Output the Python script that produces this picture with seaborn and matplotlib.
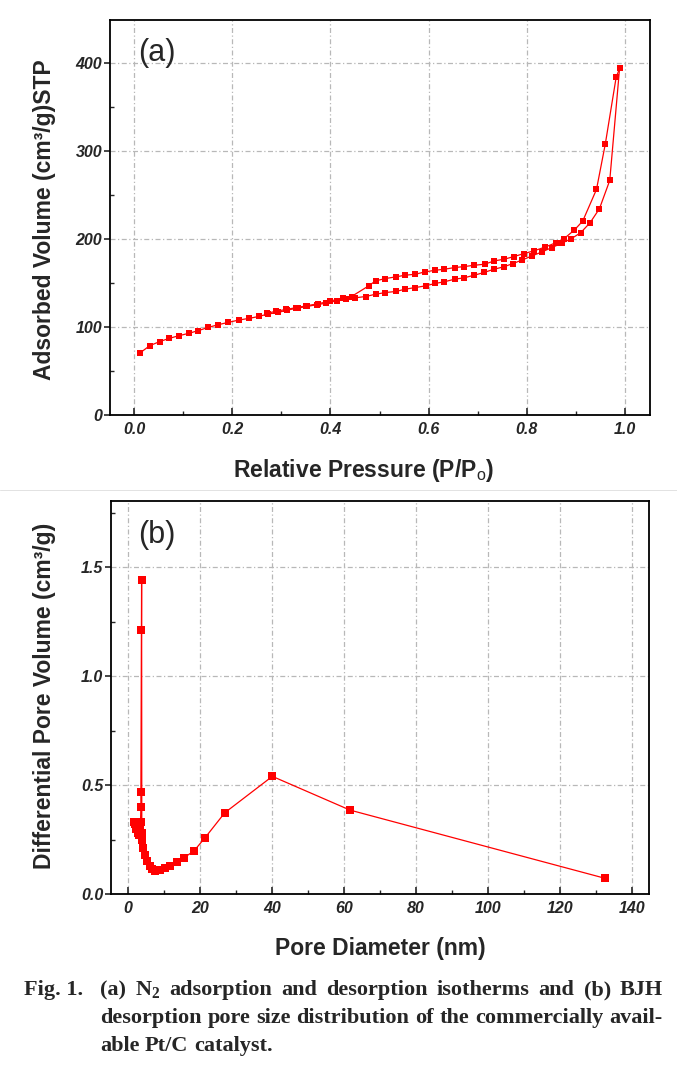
import numpy as np
import pandas as pd
import matplotlib
matplotlib.use("Agg")
import matplotlib.pyplot as plt
from matplotlib.lines import Line2D
from matplotlib.ticker import MultipleLocator, FormatStrFormatter
import seaborn as sns

# ---------------- data ----------------
ads_p = [0.012, 0.032, 0.052, 0.072, 0.092, 0.111, 0.131, 0.151, 0.172, 0.192,
         0.214, 0.234, 0.254, 0.272, 0.294, 0.312, 0.334, 0.352, 0.372, 0.392,
         0.413, 0.432, 0.450, 0.472, 0.492, 0.512, 0.533, 0.552, 0.573, 0.594,
         0.613, 0.632, 0.653, 0.672, 0.693, 0.713, 0.733, 0.753, 0.772, 0.791,
         0.811, 0.831, 0.851, 0.871, 0.891, 0.910, 0.929, 0.948, 0.969, 0.989]
ads_v = [70.5, 78.8, 83.4, 87.2, 90.2, 92.8, 95.9, 99.6, 102.7, 105.3,
         108.0, 109.8, 112.0, 114.7, 116.6, 119.3, 121.5, 123.4, 125.3, 127.2,
         129.8, 131.7, 133.2, 134.7, 137.3, 139.2, 140.4, 143.0, 144.9, 146.8,
         149.5, 151.4, 154.4, 155.9, 158.9, 162.0, 165.7, 168.4, 172.2, 176.3,
         180.9, 185.4, 190.3, 195.2, 200.5, 207.3, 218.6, 234.5, 266.6, 393.9]

des_p = [0.989, 0.982, 0.960, 0.942, 0.914, 0.897, 0.876, 0.860, 0.838, 0.814,
         0.794, 0.774, 0.754, 0.734, 0.714, 0.693, 0.672, 0.653, 0.632, 0.613,
         0.592, 0.573, 0.552, 0.533, 0.512, 0.492, 0.478, 0.443, 0.425, 0.400,
         0.375, 0.350, 0.330, 0.310, 0.290, 0.270]
des_v = [393.9, 383.7, 308.2, 256.4, 220.5, 210.3, 200.5, 196.0, 191.0, 186.5,
         183.5, 180.1, 177.1, 175.2, 171.4, 170.2, 168.7, 167.6, 165.7, 164.5,
         162.6, 160.0, 158.9, 157.0, 155.1, 152.5, 146.8, 134.7, 133.0, 129.5,
         126.5, 124.0, 122.0, 120.0, 118.0, 115.5]

pore_d = [1.7, 2.0, 2.3, 2.7, 3.0, 3.3, 3.5, 3.6, 3.6, 3.75, 3.8, 3.85, 4.0,
          4.2, 4.7, 5.2, 6.0, 6.6, 7.5, 8.9, 10.3, 11.7, 13.5, 15.6, 18.3,
          21.4, 26.9, 40.1, 61.7, 132.5]
pore_v = [0.33, 0.32, 0.30, 0.28, 0.27, 0.30, 0.33, 0.40, 0.47, 1.21, 1.44,
          0.28, 0.25, 0.21, 0.18, 0.15, 0.13, 0.113, 0.107, 0.11, 0.118,
          0.128, 0.148, 0.167, 0.197, 0.258, 0.373, 0.54, 0.385, 0.072]

xticks_a = [0.0, 0.2, 0.4, 0.6, 0.8, 1.0]
yticks_a = [0, 100, 200, 300, 400]
xticks_b = [0, 20, 40, 60, 80, 100, 120, 140]
yticks_b = [0.0, 0.5, 1.0, 1.5]

caption_l1 = ["(a)", r"N$_\mathrm{2}$", "adsorption", "and", "desorption",
              "isotherms", "and", "(b)", "BJH"]
caption_l2 = ["desorption", "pore", "size", "distribution", "of", "the",
              "commercially", "avail-"]
caption_l3 = "able Pt/C catalyst."

# ---------------- style ----------------
sns.set_style("white")
plt.rcParams["font.family"] = ["Liberation Sans", "DejaVu Sans"]
plt.rcParams["font.sans-serif"] = ["Liberation Sans"]
plt.rcParams["mathtext.fontset"] = "custom"
plt.rcParams["mathtext.rm"] = "Liberation Serif:bold"
plt.rcParams["mathtext.sf"] = "Liberation Sans"

W, H = 677, 1066
fig = plt.figure(figsize=(W / 100, H / 100), dpi=100)
fig.patch.set_facecolor("white")


def frac_rect(l, t, r, b):
    return [l / W, 1 - b / H, (r - l) / W, (b - t) / H]


ax_a = fig.add_axes(frac_rect(110, 20, 650, 415))
ax_b = fig.add_axes(frac_rect(111, 501, 649, 894))

RED = "#ff0000"
df_ads = pd.DataFrame({"p": ads_p, "v": ads_v})
df_des = pd.DataFrame({"p": des_p, "v": des_v})
df_b = pd.DataFrame({"d": pore_d, "v": pore_v})

for df in (df_ads, df_des):
    sns.lineplot(data=df, x="p", y="v", ax=ax_a, sort=False, estimator=None,
                 color=RED, linewidth=0.9, marker="s", markersize=4.8,
                 markeredgewidth=0, markerfacecolor=RED)
sns.lineplot(data=df_b, x="d", y="v", ax=ax_b, sort=False, estimator=None,
             color=RED, linewidth=0.9, marker="s", markersize=6.0,
             markeredgewidth=0, markerfacecolor=RED)

tick_font = dict(family="Liberation Sans", weight="bold", style="italic", size=11.5)


def style_axes(ax, xlim, ylim, xt, yt, xminor, yminor, xfmt, yfmt):
    ax.set_xlim(*xlim)
    ax.set_ylim(*ylim)
    ax.set_xticks(xt)
    ax.set_yticks(yt)
    ax.xaxis.set_minor_locator(MultipleLocator(xminor))
    ax.yaxis.set_minor_locator(MultipleLocator(yminor))
    ax.xaxis.set_major_formatter(FormatStrFormatter(xfmt))
    ax.yaxis.set_major_formatter(FormatStrFormatter(yfmt))
    ax.set_xlabel("")
    ax.set_ylabel("")
    ax.grid(True, which="major", color="#b8b8b8",
            linestyle=(0, (4, 2, 1, 2)), linewidth=0.9)
    ax.set_axisbelow(True)
    for s in ax.spines.values():
        s.set_color("black")
        s.set_linewidth(1.3)
        s.set_visible(True)
    ax.tick_params(axis="x", which="major", direction="in", length=5,
                   width=1.2, pad=5, top=False, bottom=True)
    ax.tick_params(axis="x", which="minor", direction="in", length=3,
                   width=1.0, top=False, bottom=True)
    ax.tick_params(axis="y", which="major", direction="out", length=4,
                   width=1.2, pad=1.5, right=False, left=True)
    ax.tick_params(axis="y", which="minor", direction="in", length=3,
                   width=1.0, right=False, left=True)
    for lab in ax.get_xticklabels() + ax.get_yticklabels():
        lab.set_fontproperties(tick_font)


style_axes(ax_a, (-0.049, 1.051), (0, 449), xticks_a, yticks_a, 0.1, 50,
           "%.1f", "%d")
style_axes(ax_b, (-4.7, 144.7), (0, 1.804), xticks_b, yticks_b, 10, 0.25,
           "%d", "%.1f")

ax_a.text(0.052, 0.916, "(a)", transform=ax_a.transAxes, fontsize=22,
          ha="left", va="center", family="Liberation Sans")
ax_b.text(0.050, 0.913, "(b)", transform=ax_b.transAxes, fontsize=22,
          ha="left", va="center", family="Liberation Sans")

lab_kw = dict(fontsize=16.5, fontweight="bold", family="Liberation Sans")
fig.text(45 / W, 1 - 220 / H, "Adsorbed Volume (cm³/g)STP", rotation=90,
         ha="center", va="center", **lab_kw)
fig.text(45 / W, 1 - 696 / H, "Differential Pore Volume (cm³/g)", rotation=90,
         ha="center", va="center", **lab_kw)
fig.text(364 / W, 1 - 477 / H, r"Relative Pressure (P/P$_{\mathsf{o}}$)",
         ha="center", va="baseline", **lab_kw)
fig.text(380 / W, 1 - 955 / H, "Pore Diameter (nm)",
         ha="center", va="baseline", **lab_kw)

# faint separator line between the two panels
fig.add_artist(Line2D([0, 1], [1 - 490 / H] * 2, color="#e2e2e2",
                      linewidth=0.7, transform=fig.transFigure))

# ---------------- caption ----------------
CAP_FS = 16
cap_kw = dict(family="Liberation Serif", weight="bold", fontsize=CAP_FS,
              va="baseline", ha="left")
fig.canvas.draw()
rend = fig.canvas.get_renderer()


def place_line(words, x0, x1, y, justify=True):
    texts = [fig.text(0, 0, w, **cap_kw) for w in words]
    widths = [t.get_window_extent(rend).width for t in texts]
    if justify and len(words) > 1:
        gap = (x1 - x0 - sum(widths)) / (len(words) - 1)
    else:
        gap = CAP_FS * 100 / 72 * 0.25
    x = x0
    for t, w in zip(texts, widths):
        t.set_position((x / W, 1 - y / H))
        x += w + gap


fig.text(24 / W, 1 - 995 / H, "Fig. 1.", **cap_kw)
place_line(caption_l1, 100, 663, 995)
place_line(caption_l2, 100, 663, 1023)
place_line(caption_l3.split(" "), 100, 663, 1051, justify=False)

fig.savefig("out.png", dpi=100, facecolor="white")
